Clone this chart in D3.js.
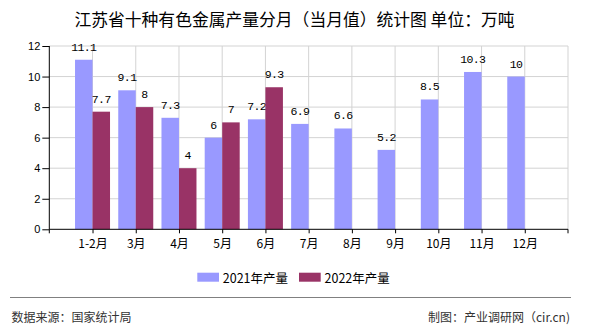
<!DOCTYPE html>
<html><head><meta charset="utf-8">
<script src="https://cdn.jsdelivr.net/npm/d3@7"></script>
<style>
body{margin:0;background:#fff;}
svg{display:block;}
</style>
</head><body>
<div id="chart"></div>
<script>
const categories = ["1-2月","3月","4月","5月","6月","7月","8月","9月","10月","11月","12月"];
const series2021 = [11.1, 9.1, 7.3, 6, 7.2, 6.9, 6.6, 5.2, 8.5, 10.3, 10];
const series2022 = [7.7, 8, 4, 7, 9.3, null, null, null, null, null, null];
const seriesNames = ["2021年产量", "2022年产量"];
const seriesColors = ["#9999FF", "#993366"];
const yTicks = [0, 2, 4, 6, 8, 10, 12];
const title = "江苏省十种有色金属产量分月（当月值）统计图 单位：万吨";
const sourceText = "数据来源：国家统计局";
const creditText = "制图：产业调研网（cir.cn)";

(function () {
const W = 590, H = 330;
const pL = 49.3, pR = 568, pT = 46, pB = 229.3;
const svg = d3.select("#chart").append("svg").attr("width", W).attr("height", H);
const cjk = "'Noto Sans CJK SC', 'Noto Sans', sans-serif";

const x = d3.scalePoint().domain(categories).range([pL, pR]).padding(1);
const y = d3.scaleLinear().domain([0, 12]).range([pB, pT]);
const barW = 17.5;

// title
svg.append("text").attr("x", 294.5).attr("y", 18.5)
  .attr("text-anchor", "middle").attr("dominant-baseline", "central")
  .style("font-family", cjk).style("font-size", "16.8px").style("font-weight", 400)
  .attr("fill", "#000").text(title);

// grid
const g = svg.append("g");
g.selectAll(".hg").data(yTicks.filter(d => d > 0)).join("line")
  .attr("x1", pL).attr("x2", pR).attr("y1", d => y(d)).attr("y2", d => y(d))
  .attr("stroke", "#d3d3d3").attr("stroke-width", 1);
g.selectAll(".vg").data(categories).join("line")
  .attr("x1", d => x(d)).attr("x2", d => x(d)).attr("y1", pT).attr("y2", pB)
  .attr("stroke", "#d3d3d3").attr("stroke-width", 1);
g.append("line").attr("x1", pR).attr("x2", pR).attr("y1", pT).attr("y2", pB)
  .attr("stroke", "#d3d3d3");

// bars
seriesNames.forEach((name, si) => {
  const vals = si === 0 ? series2021 : series2022;
  const bars = categories.map((c, i) => ({c, v: vals[i]})).filter(d => d.v != null);
  svg.append("g").selectAll("rect").data(bars).join("rect")
    .attr("x", d => si === 0 ? x(d.c) - barW : x(d.c))
    .attr("width", barW)
    .attr("y", d => y(d.v))
    .attr("height", d => y(0) - y(d.v))
    .attr("fill", seriesColors[si]);
  svg.append("g").selectAll("text").data(bars).join("text")
    .attr("x", d => (si === 0 ? x(d.c) - barW / 2 : x(d.c) + barW / 2))
    .attr("y", d => y(d.v) - 9)
    .attr("text-anchor", "middle")
    .style("font-family", "'Liberation Mono', monospace").style("font-size", "11.5px")
    .style("letter-spacing", "-0.6px")
    .attr("fill", "#000").text(d => d.v);
});

// axes
const yAxis = d3.axisLeft(y).tickValues(yTicks).tickSize(7).tickPadding(2);
const ya = svg.append("g").attr("transform", `translate(${pL},0)`).call(yAxis);
ya.select(".domain").attr("stroke", "#000").attr("d", `M0,${pT}V${pB}`);
ya.selectAll(".tick line").attr("stroke", "#000");
ya.selectAll("text").style("font-family", "'Liberation Sans', sans-serif").style("font-size", "11px").attr("fill", "#000");

const xAxis = d3.axisBottom(x).tickSize(4).tickPadding(6);
const xa = svg.append("g").attr("transform", `translate(0,${pB})`).call(xAxis);
xa.select(".domain").attr("stroke", "#000").attr("d", `M${pL},0H${pR}`);
xa.selectAll(".tick line").attr("stroke", "#000");
xa.selectAll("text").style("font-family", cjk).style("font-size", "12px").attr("fill", "#000");
[pL, pR].forEach(px => xa.append("line").attr("x1", px).attr("x2", px).attr("y1", 0).attr("y2", 4).attr("stroke", "#000"));

// legend
const legX = [197.3, 299];
seriesNames.forEach((name, i) => {
  svg.append("rect").attr("x", legX[i]).attr("y", 272.7).attr("width", 21.7).attr("height", 9)
    .attr("fill", seriesColors[i]);
  svg.append("text").attr("x", legX[i] + 25.5).attr("y", 277.3)
    .attr("dominant-baseline", "central")
    .style("font-family", cjk).style("font-size", "12.5px").attr("fill", "#000").text(name);
});

// footer
svg.append("line").attr("x1", 10).attr("x2", 571).attr("y1", 297.5).attr("y2", 297.5)
  .attr("stroke", "#808080").attr("stroke-width", 1);
svg.append("text").attr("x", 11.5).attr("y", 316).attr("dominant-baseline", "central")
  .style("font-family", cjk).style("font-size", "12px").attr("fill", "#333").text(sourceText);
svg.append("text").attr("x", 570).attr("y", 316).attr("dominant-baseline", "central")
  .attr("text-anchor", "end")
  .style("font-family", cjk).style("font-size", "12px").attr("fill", "#333").text(creditText);
})();
</script>
</body></html>
